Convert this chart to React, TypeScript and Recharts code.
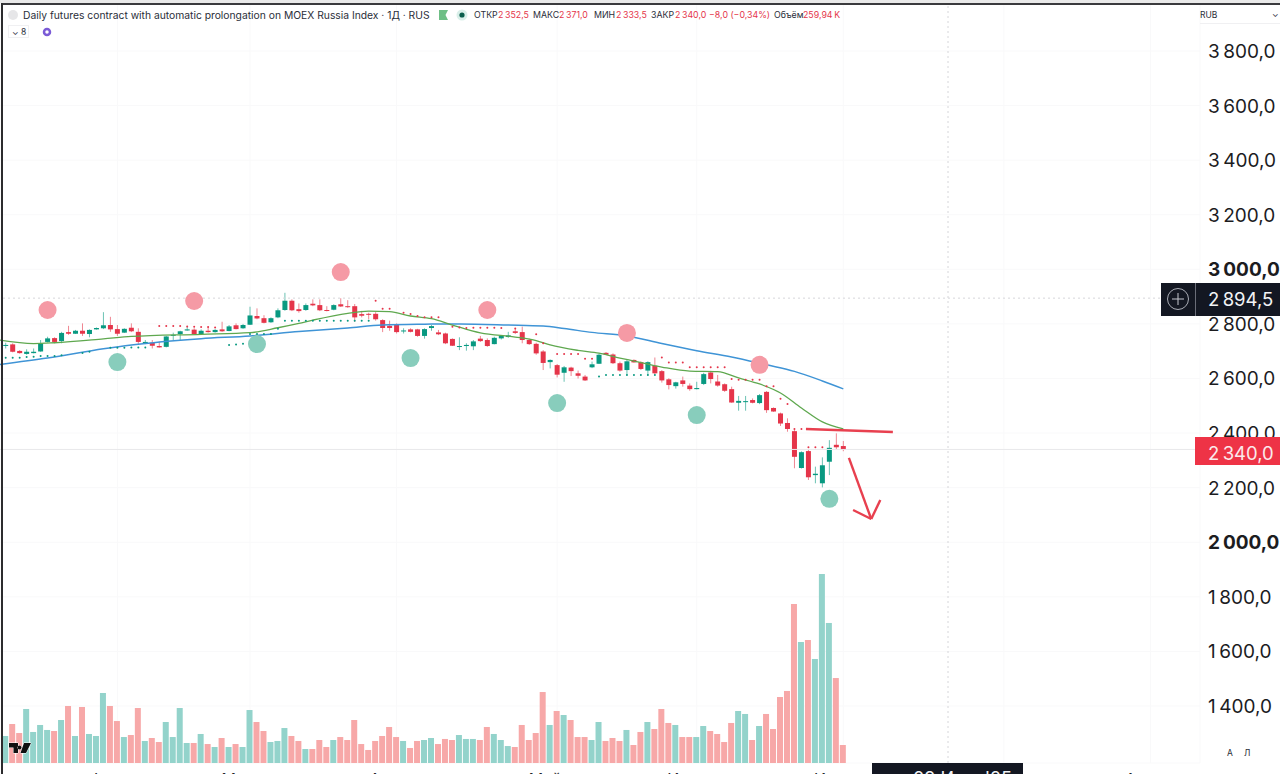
import React from 'react';
import {
    Bar,
    CartesianGrid,
    ComposedChart,
    Line,
    ReferenceDot,
    ReferenceLine,
    XAxis,
    YAxis
} from 'recharts';

// open, high, low, close
const candles: number[][] = [
    [2720, 2731, 2710, 2723], [2725, 2729, 2696, 2698], [2701, 2704, 2691, 2693], [2690, 2707, 2687, 2698],
    [2693, 2710, 2692, 2698], [2699, 2741, 2698, 2729], [2734, 2753, 2732, 2747], [2748, 2751, 2729, 2734],
    [2737, 2771, 2729, 2767], [2770, 2793, 2760, 2764], [2764, 2778, 2763, 2775], [2775, 2802, 2756, 2764],
    [2763, 2780, 2751, 2778], [2780, 2787, 2779, 2785], [2784, 2843, 2781, 2795], [2796, 2826, 2771, 2780],
    [2781, 2796, 2756, 2764], [2768, 2784, 2767, 2782], [2786, 2802, 2770, 2773], [2771, 2784, 2726, 2734],
    [2730, 2741, 2726, 2734], [2731, 2741, 2710, 2720], [2719, 2735, 2713, 2714], [2716, 2756, 2714, 2754],
    [2758, 2768, 2741, 2760], [2763, 2775, 2741, 2773], [2776, 2790, 2775, 2780], [2779, 2784, 2760, 2763],
    [2763, 2780, 2762, 2775], [2775, 2790, 2768, 2770], [2770, 2781, 2768, 2778], [2780, 2808, 2771, 2773],
    [2774, 2796, 2773, 2791], [2795, 2802, 2780, 2781], [2784, 2800, 2782, 2796], [2797, 2863, 2796, 2831],
    [2829, 2857, 2817, 2820], [2821, 2832, 2802, 2804], [2806, 2824, 2804, 2821], [2824, 2857, 2821, 2850],
    [2851, 2914, 2848, 2885], [2885, 2890, 2847, 2850], [2854, 2875, 2841, 2847], [2851, 2875, 2848, 2869],
    [2874, 2890, 2865, 2868], [2869, 2890, 2847, 2850], [2851, 2865, 2846, 2848], [2852, 2872, 2850, 2869],
    [2872, 2894, 2862, 2864], [2865, 2887, 2859, 2862], [2865, 2873, 2808, 2824], [2836, 2848, 2824, 2830],
    [2837, 2841, 2817, 2834], [2837, 2843, 2812, 2817], [2814, 2817, 2770, 2785], [2793, 2812, 2775, 2785],
    [2798, 2802, 2765, 2770], [2773, 2784, 2765, 2776], [2780, 2784, 2769, 2771], [2780, 2782, 2753, 2756],
    [2756, 2784, 2746, 2781], [2785, 2796, 2775, 2792], [2769, 2778, 2759, 2762], [2765, 2768, 2726, 2729],
    [2745, 2747, 2719, 2720], [2716, 2751, 2704, 2719], [2719, 2729, 2702, 2723], [2718, 2741, 2704, 2736],
    [2746, 2756, 2734, 2737], [2741, 2747, 2716, 2719], [2726, 2753, 2725, 2749], [2747, 2759, 2743, 2756],
    [2752, 2771, 2749, 2758], [2773, 2784, 2763, 2767], [2770, 2790, 2729, 2741], [2741, 2746, 2723, 2726],
    [2727, 2731, 2687, 2692], [2699, 2704, 2631, 2657], [2660, 2670, 2637, 2668], [2649, 2653, 2604, 2614],
    [2621, 2646, 2588, 2641], [2640, 2643, 2609, 2627], [2619, 2629, 2600, 2610], [2607, 2613, 2591, 2593],
    [2641, 2662, 2638, 2652], [2654, 2692, 2653, 2687], [2694, 2697, 2686, 2687], [2688, 2692, 2653, 2656],
    [2656, 2662, 2625, 2629], [2631, 2668, 2613, 2663], [2668, 2670, 2658, 2659], [2660, 2663, 2631, 2635],
    [2629, 2663, 2613, 2660], [2647, 2677, 2615, 2619], [2627, 2631, 2585, 2593], [2597, 2601, 2560, 2576],
    [2572, 2588, 2563, 2586], [2593, 2607, 2570, 2580], [2574, 2582, 2555, 2561], [2561, 2588, 2560, 2565],
    [2580, 2621, 2576, 2616], [2622, 2628, 2582, 2598], [2589, 2613, 2570, 2574], [2579, 2582, 2551, 2555],
    [2561, 2570, 2511, 2512], [2511, 2536, 2482, 2518], [2514, 2536, 2482, 2517], [2521, 2527, 2509, 2511],
    [2510, 2543, 2506, 2539], [2551, 2554, 2474, 2484], [2492, 2494, 2478, 2479], [2472, 2475, 2426, 2435],
    [2437, 2454, 2405, 2415], [2407, 2411, 2271, 2313], [2272, 2333, 2270, 2330], [2334, 2338, 2228, 2238],
    [2246, 2277, 2216, 2251], [2216, 2311, 2201, 2282], [2295, 2374, 2246, 2346], [2357, 2399, 2340, 2348],
    [2352.5, 2371, 2333.5, 2340]
];

// thousands of contracts
const volumes = [
    390, 563, 433, 780, 448, 549, 477, 462, 621, 823, 390, 809, 419, 390, 1011, 823, 606, 375, 404, 794,
    318, 361, 303, 592, 375, 794, 289, 289, 419, 274, 231, 361, 231, 274, 231, 765, 592, 462, 303, 318,
    505, 390, 318, 202, 202, 332, 231, 332, 375, 332, 621, 274, 188, 318, 390, 520, 375, 318, 217, 318,
    332, 361, 274, 347, 332, 404, 347, 347, 332, 520, 419, 332, 245, 231, 549, 332, 433, 1025, 549, 751,
    693, 621, 375, 375, 332, 592, 318, 361, 318, 477, 260, 448, 592, 491, 780, 578, 549, 375, 375, 375,
    534, 462, 419, 303, 578, 751, 708, 332, 534, 708, 491, 953, 1040, 2296, 1747, 1776, 1502, 2729, 2022, 1227,
    260
];

// [bar index, price]
const fastMa = [
    [-1, 2741], [4, 2728], [7, 2731], [14, 2745], [18, 2754], [28, 2762], [35, 2768], [39, 2786], [42, 2802],
    [44, 2814], [49, 2839], [52, 2847], [55, 2845], [58, 2829], [61, 2819], [64, 2796], [68, 2767], [73, 2752],
    [76, 2739], [78, 2723], [82, 2703], [85, 2693], [88, 2675], [90, 2664], [94, 2642], [98, 2627], [102, 2625],
    [105, 2602], [108, 2580], [111, 2547], [114, 2492], [117, 2441], [120, 2415]
];
const slowMa = [
    [-1, 2651], [6, 2675], [14, 2709], [18, 2723], [28, 2746], [35, 2756], [42, 2772], [49, 2785], [54, 2796],
    [60, 2799], [65, 2800], [72, 2796], [77, 2792], [80, 2783], [84, 2769], [89, 2756], [94, 2728], [99, 2702],
    [104, 2679], [109, 2650], [113, 2626], [117, 2591], [120, 2562]
];
const sarBelow = [
    [0, 2676], [1, 2676], [2, 2676], [3, 2679], [4, 2680], [5, 2682], [6, 2682], [7, 2682], [8, 2685], [11, 2693],
    [12, 2698], [15, 2713], [16, 2713], [17, 2713], [18, 2714], [19, 2714], [20, 2714], [32, 2723], [33, 2725],
    [34, 2727], [35, 2763], [36, 2763], [37, 2763], [38, 2763], [39, 2782], [40, 2812], [41, 2812], [42, 2812],
    [43, 2812], [44, 2812], [45, 2812], [46, 2812], [47, 2812], [48, 2812], [49, 2812], [50, 2812], [51, 2812],
    [52, 2812], [85, 2607], [86, 2613], [87, 2613], [88, 2613], [89, 2613], [90, 2613], [91, 2613], [92, 2613],
    [93, 2613]
];
const sarAbove = [
    [22, 2792], [23, 2792], [24, 2792], [25, 2792], [26, 2791], [27, 2790], [28, 2789], [29, 2789], [30, 2787],
    [53, 2885], [54, 2856], [55, 2856], [57, 2841], [58, 2836], [59, 2829], [60, 2824], [61, 2824], [62, 2824],
    [64, 2790], [65, 2787], [66, 2785], [67, 2786], [68, 2786], [69, 2786], [70, 2786], [71, 2785], [73, 2783],
    [76, 2762], [77, 2729], [79, 2690], [80, 2690], [81, 2690], [82, 2690], [83, 2672], [84, 2672], [94, 2677],
    [95, 2659], [96, 2659], [97, 2659], [98, 2641], [99, 2641], [100, 2641], [101, 2641], [102, 2641], [103, 2641],
    [104, 2598], [105, 2595], [106, 2595], [107, 2595], [108, 2595], [109, 2572], [110, 2572], [111, 2526],
    [112, 2507], [113, 2415], [114, 2415], [115, 2348], [116, 2348], [117, 2348]
];

// round markers on the swing highs and lows
const swingHighs = [[6, 2851], [27, 2884], [48, 2990], [69, 2851], [89, 2767], [108, 2650]];
const swingLows = [[16, 2660], [36, 2726], [58, 2675], [79, 2510], [99, 2466], [118, 2159]];

// hand drawn level and arrow
const levelStroke = [[114.65, 2415], [127.1, 2404]];
const arrowShaft = [[120.8, 2309], [124, 2085]];
const arrowHeadLeft = [[121.4, 2118], [124, 2085]];
const arrowHeadRight = [[125.3, 2155], [124, 2085]];

const priceTicks = [3800, 3600, 3400, 3200, 3000, 2800, 2600, 2400, 2200, 2000, 1800, 1600, 1400];
const boldPrices = [3000, 2000];
const monthTicks = [16, 35, 56, 79, 99, 120, 143, 164];
const monthLabels = ['Фев', 'Мар', 'Апр', 'Май', 'Июн', 'Июл', '', 'Авг'];

const UP = '#089981';
const DOWN = '#e5354a';
const FONT = 'Inter, "Noto Sans", sans-serif';

const lookup = (pairs: number[][]) => new Map(pairs.map(([i, v]) => [i, v]));
const fastById = lookup(fastMa);
const slowById = lookup(slowMa);
const belowById = lookup(sarBelow);
const aboveById = lookup(sarAbove);

const rows = [-1, ...candles.map((_, i) => i)].map((i) => {
    const c = candles[i];
    return {
        i,
        range: c ? [c[2], c[1]] : undefined,
        candle: c,
        volume: volumes[i],
        fast: fastById.get(i),
        slow: slowById.get(i),
        below: belowById.get(i),
        above: aboveById.get(i)
    };
});

const priceText = (v: number) => {
    const s = v.toFixed(1).replace('.', ',');
    return s.slice(0, 1) + '\u2009' + s.slice(1);
};

const CandleShape = (props: any) => {
    const { x, y, width, height, payload } = props;
    const c = payload?.candle;
    if (!c || !Number.isFinite(y)) return null;
    const [o, h, l, cl] = c;
    const k = height / (h - l);
    const top = y + (h - Math.max(o, cl)) * k;
    const bodyH = Math.max(Math.abs(o - cl) * k, 1);
    const color = cl >= o ? UP : DOWN;
    return (
        <g>
            <line x1={x + width / 2} x2={x + width / 2} y1={y} y2={y + height} stroke={color} strokeOpacity={0.6} strokeWidth={1} />
            <rect x={x} y={top} width={width} height={bodyH} fill={color} />
        </g>
    );
};

const VolumeShape = (props: any) => {
    const { x, y, width, height, payload } = props;
    const c = payload?.candle;
    if (!c || !Number.isFinite(y)) return null;
    return <rect x={x} y={y} width={width} height={height} fill={c[3] >= c[0] ? '#93d3cb' : '#f7a8a8'} />;
};

const PriceTick = (props: any) => {
    const { x, y, payload } = props;
    return (
        <text
            x={x}
            dx={0}
            y={y + 7}
            textAnchor="start"
            fontFamily={FONT}
            fontSize={19}
            fontWeight={boldPrices.includes(payload.value) ? 700 : 400}
            fill="#1c1c1f"
        >
            {priceText(payload.value)}
        </text>
    );
};

const MonthTick = (props: any) => {
    const { x, payload, index } = props;
    return (
        <text x={x - 12} y={785} textAnchor="middle" fontFamily={FONT} fontSize={16} fill="#26262a">
            {monthLabels[index] ?? monthLabels[monthTicks.indexOf(payload.value)]}
        </text>
    );
};

const Label = ({ x, y, color = '#2a2e39', size = 8.8, children }: any) => (
    <span
        style={{
            position: 'absolute',
            left: x,
            top: y,
            color,
            fontSize: size,
            lineHeight: '12px',
            whiteSpace: 'nowrap',
            fontFamily: FONT
        }}
    >
        {children}
    </span>
);

const Header = () => (
    <>
        <div style={{ position: 'absolute', left: 0, top: 0, width: 1280, height: 3, background: '#e9e9e9' }} />
        <div style={{ position: 'absolute', left: 2, top: 3, width: 1278, height: 2, background: '#3a3a3d' }} />
        <div style={{ position: 'absolute', left: 1, top: 3, width: 2, height: 771, background: '#2c2c2e' }} />
        <div style={{ position: 'absolute', left: 8, top: 10, width: 10, height: 10, borderRadius: 5, background: '#e6e6e8' }} />
        <Label x={23} y={9} size={10.3}>
            Daily futures contract with automatic prolongation on MOEX Russia Index · 1Д · RUS
        </Label>
        <svg style={{ position: 'absolute', left: 438, top: 9 }} width={32} height={14}>
            <path d="M1 1 H10 L7.5 6 L10 11 H1 Z" fill="#6fbf86" />
            <circle cx={24} cy={6} r={5.5} fill="#d9efe9" />
            <circle cx={24} cy={6} r={2.6} fill="#0b5e4c" />
        </svg>
        <Label x={474} y={9}>ОТКР</Label>
        <Label x={498} y={9} color={DOWN}>2{'\u2009'}352,5</Label>
        <Label x={533} y={9}>МАКС</Label>
        <Label x={559} y={9} color={DOWN}>2{'\u2009'}371,0</Label>
        <Label x={594} y={9}>МИН</Label>
        <Label x={616} y={9} color={DOWN}>2{'\u2009'}333,5</Label>
        <Label x={651} y={9}>ЗАКР</Label>
        <Label x={675} y={9} color={DOWN}>2{'\u2009'}340,0</Label>
        <Label x={709} y={9} color={DOWN}>−8,0 (−0,34%)</Label>
        <Label x={774} y={9}>Объём</Label>
        <Label x={803} y={9} color={DOWN}>259,94{'\u2009'}K</Label>
        <div style={{ position: 'absolute', left: 8, top: 25, width: 21, height: 13, border: '1px solid #f0f0f2', boxSizing: 'border-box' }} />
        <Label x={12} y={26} size={8.5}>⌄ 8</Label>
        <svg style={{ position: 'absolute', left: 41, top: 26 }} width={12} height={12}>
            <circle cx={6} cy={6} r={3} fill="none" stroke="#7b5bd6" strokeWidth={2.5} />
        </svg>
        <Label x={1200} y={9} size={8.5}>RUB</Label>
        <Label x={1272} y={8} size={8.5}>⌄</Label>
        <div style={{ position: 'absolute', left: 1200, top: 23, width: 80, height: 1, background: '#f0f0f2' }} />
        <Label x={1227} y={747} size={8.5}>А</Label>
        <Label x={1244} y={747} size={8.5}>Л</Label>
        <svg style={{ position: 'absolute', left: 8, top: 741 }} width={24} height={14}>
            <path
                d="M1 2 H10 V12 H5.5 V6.5 H1 Z M11.5 4.5 a2 2 0 1 0 0.01 0 Z M16 2 H23 L18 12 H12.5 Z"
                fill="#111"
                stroke="#fff"
                strokeWidth={1}
                paintOrder="stroke"
            />
        </svg>
    </>
);

const PriceBoxes = () => (
    <>
        <div style={{ position: 'absolute', left: 1161, top: 283, width: 119, height: 33, background: '#131722' }} />
        <div style={{ position: 'absolute', left: 1195, top: 283, width: 1, height: 33, background: '#6a6d78' }} />
        <svg style={{ position: 'absolute', left: 1166, top: 287 }} width={24} height={24}>
            <circle cx={12} cy={12} r={10.5} fill="none" stroke="#a9acb5" strokeWidth={1} />
            <path d="M12 6 V18 M6 12 H18" stroke="#c6c8cf" strokeWidth={1} />
        </svg>
        <Label x={1208} y={290} color="#f2f3f5" size={18.5}>
            <span style={{ lineHeight: '19px' }}>2{'\u2009'}894,5</span>
        </Label>
        <div style={{ position: 'absolute', left: 1195, top: 437, width: 85, height: 28, background: '#ee3346' }} />
        <Label x={1208} y={444} color="#fbe9eb" size={18.5}>
            <span style={{ lineHeight: '19px' }}>2{'\u2009'}340,0</span>
        </Label>
        <div
            style={{
                position: 'absolute',
                left: 872,
                top: 763,
                width: 110,
                height: 20,
                background: '#131722',
                color: '#f2f3f5',
                fontFamily: FONT,
                fontSize: 18,
                lineHeight: '20px',
                padding: '6px 0 0 41px',
                whiteSpace: 'nowrap',
                boxSizing: 'content-box'
            }}
        >
            09 Июл '25
        </div>
    </>
);

const segment = (pts: number[][]) => pts.map(([x, y]) => ({ x, y }));

export default function App() {
    return (
        <div
            style={{
                position: 'absolute',
                left: 0,
                top: 0,
                width: 1280,
                height: 774,
                overflow: 'hidden',
                background: '#fff'
            }}
        >
            <ComposedChart width={1280} height={790} data={rows} margin={{ top: 0, right: 0, bottom: 0, left: 0 }}>
                <CartesianGrid xAxisId="price" yAxisId="price" stroke="#f9f9fa" />
                <XAxis
                    xAxisId="price"
                    dataKey="i"
                    type="number"
                    domain={[-0.817, 171.1]}
                    allowDataOverflow
                    ticks={monthTicks}
                    interval={0}
                    height={27}
                    axisLine={false}
                    tickLine={false}
                    tick={<MonthTick />}
                />
                <XAxis xAxisId="vol" dataKey="i" type="number" domain={[-0.817, 171.1]} allowDataOverflow hide />
                <YAxis
                    yAxisId="price"
                    orientation="right"
                    width={80}
                    domain={[1191, 3987]}
                    allowDataOverflow
                    ticks={priceTicks}
                    interval={0}
                    axisLine={false}
                    tickLine={false}
                    tick={<PriceTick />}
                />
                <YAxis yAxisId="vol" domain={[0, 11018]} allowDataOverflow hide />

                <ReferenceLine xAxisId="price" yAxisId="price" x={135} stroke="#d6d6da" strokeDasharray="2 3" />
                <ReferenceLine xAxisId="price" yAxisId="price" y={2894.5} stroke="#d6d6da" strokeDasharray="2 3" />
                <ReferenceLine xAxisId="price" yAxisId="price" y={2340} stroke="#e8e8ea" />

                <Bar
                    xAxisId="vol"
                    yAxisId="vol"
                    dataKey="volume"
                    barSize={6}
                    shape={<VolumeShape />}
                    isAnimationActive={false}
                />
                <Bar
                    xAxisId="price"
                    yAxisId="price"
                    dataKey="range"
                    barSize={5}
                    shape={<CandleShape />}
                    isAnimationActive={false}
                />
                <Line
                    xAxisId="price"
                    yAxisId="price"
                    dataKey="slow"
                    type="monotone"
                    stroke="#3f94d6"
                    strokeWidth={1.5}
                    dot={false}
                    connectNulls
                    isAnimationActive={false}
                />
                <Line
                    xAxisId="price"
                    yAxisId="price"
                    dataKey="fast"
                    type="monotone"
                    stroke="#5fa84f"
                    strokeWidth={1.3}
                    dot={false}
                    connectNulls
                    isAnimationActive={false}
                />
                <Line
                    xAxisId="price"
                    yAxisId="price"
                    dataKey="below"
                    stroke="none"
                    dot={{ r: 1, fill: UP, stroke: 'none' }}
                    activeDot={false}
                    isAnimationActive={false}
                />
                <Line
                    xAxisId="price"
                    yAxisId="price"
                    dataKey="above"
                    stroke="none"
                    dot={{ r: 1, fill: DOWN, stroke: 'none' }}
                    activeDot={false}
                    isAnimationActive={false}
                />
                {swingHighs.map(([x, y]) => (
                    <ReferenceDot key={`h${x}`} xAxisId="price" yAxisId="price" x={x} y={y} r={9} fill="#f59aa5" stroke="none" />
                ))}
                {swingLows.map(([x, y]) => (
                    <ReferenceDot key={`l${x}`} xAxisId="price" yAxisId="price" x={x} y={y} r={9} fill="#88cdbc" stroke="none" />
                ))}
                {[levelStroke, arrowShaft, arrowHeadLeft, arrowHeadRight].map((pts, n) => (
                    <ReferenceLine
                        key={n}
                        xAxisId="price"
                        yAxisId="price"
                        segment={segment(pts)}
                        stroke="#e8404f"
                        strokeWidth={2.4}
                        ifOverflow="visible"
                    />
                ))}
            </ComposedChart>
            <Header />
            <PriceBoxes />
        </div>
    );
}
